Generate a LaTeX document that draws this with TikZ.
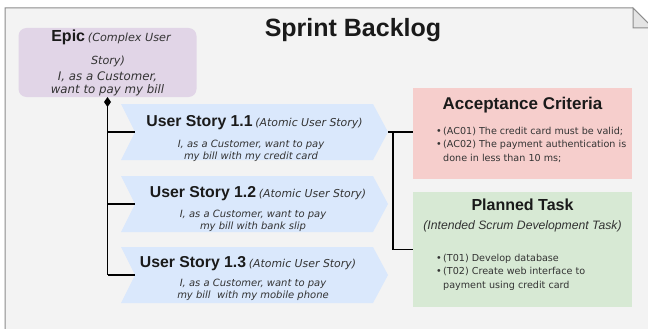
\documentclass[tikz,border=0pt]{standalone}
\usepackage{fontspec}
\setmainfont{Liberation Sans}
\newfontfamily\dv[ItalicFont={DejaVu Sans Oblique}]{DejaVu Sans}
\usetikzlibrary{arrows.meta}
\definecolor{bg}{HTML}{F3F3F3}
\definecolor{framegray}{HTML}{8C8C8C}
\definecolor{foldgray}{HTML}{E4E4E4}
\definecolor{epicfill}{HTML}{E1D5E7}
\definecolor{storyfill}{HTML}{DAE8FC}
\definecolor{acfill}{HTML}{F6CECC}
\definecolor{ptfill}{HTML}{D7E9D4}
\definecolor{ink}{HTML}{1A1A1A}
\definecolor{softink}{HTML}{333333}
\newcommand{\storychevron}[2]{%
  \fill[storyfill] (121,#2) -- (373,#2) -- (388,#2+28) -- (373,#2+56) -- (121,#2+56) -- (135,#2+28) -- cycle;
  \coordinate (#1w) at (135,#2+28);
  \coordinate (#1e) at (388,#2+28);}
\begin{document}
\begin{tikzpicture}[x=1pt,y=-1pt,
  conn/.style={draw=black, line width=1.8pt},
  boxnode/.style={inner sep=0pt, outer sep=0pt},
  head/.style={anchor=base, text=ink, font=\bfseries},
  storyline/.style={anchor=base, text=softink, font=\dv\itshape\fontsize{10}{12}\selectfont},
  bulletline/.style={anchor=base west, text=softink, font=\dv\fontsize{9.6}{11}\selectfont, inner sep=0pt}]
\useasboundingbox (0,0) rectangle (648,329);
\clip (0,0) rectangle (648,329);
\fill[white] (0,0) rectangle (648,329);
\filldraw[fill=bg, draw=framegray, line width=1pt] (5,345) -- (5,8) -- (633,8) -- (655,30) -- (655,345);
\filldraw[fill=foldgray, draw=framegray, line width=1pt] (633,8) -- (633,28) -- (653,28) -- cycle;

% title
\node[head, font=\bfseries\fontsize{25}{30}\selectfont] (title) at (353,37) {Sprint Backlog};

% epic
\node[boxnode, fill=epicfill, rounded corners=8pt, minimum width=178pt, minimum height=69pt] (epic) at (107.5,62.5) {};
\node[anchor=base, text=ink, inner sep=0pt] (epict) at (111,42) {{\bfseries\fontsize{16}{19}\selectfont Epic}\ {\dv\itshape\fontsize{11.2}{13}\selectfont\color{softink}(Complex User}};
\node[anchor=base, text=softink, inner sep=0pt, font=\dv\itshape\fontsize{11.2}{13}\selectfont] (epicst) at (108,64) {Story)};
\node[anchor=base, text=softink, inner sep=0pt, font=\dv\itshape\fontsize{11.8}{13}\selectfont] (epicb1) at (107.5,81) {I, as a Customer,};
\node[anchor=base, text=softink, inner sep=0pt, font=\dv\itshape\fontsize{11.8}{13}\selectfont] (epicb2) at (107.5,93) {want to pay my bill};

% user stories
\storychevron{s1}{104}
\storychevron{s2}{176}
\storychevron{s3}{247}

\node[anchor=base, text=ink, inner sep=0pt] (s1t) at (254.5,126) {{\bfseries\fontsize{15.8}{19}\selectfont User Story 1.1}\ {\dv\itshape\fontsize{10.9}{13}\selectfont\color{softink}(Atomic User Story)}};
\node[storyline] (s1a) at (251,147) {I, as a Customer, want to pay};
\node[storyline] (s1b) at (251,159) {my bill with my credit card};

\node[anchor=base, text=ink, inner sep=0pt] (s2t) at (258,197) {{\bfseries\fontsize{15.8}{19}\selectfont User Story 1.2}\ {\dv\itshape\fontsize{10.9}{13}\selectfont\color{softink}(Atomic User Story)}};
\node[storyline] (s2a) at (253,217) {I, as a Customer, want to pay};
\node[storyline] (s2b) at (253,229) {my bill with bank slip};

\node[anchor=base, text=ink, inner sep=0pt] (s3t) at (248,267) {{\bfseries\fontsize{15.8}{19}\selectfont User Story 1.3}\ {\dv\itshape\fontsize{10.9}{13}\selectfont\color{softink}(Atomic User Story)}};
\node[storyline] (s3a) at (253,286) {I, as a Customer, want to pay};
\node[storyline] (s3b) at (253,298) {my bill\ \ with my mobile phone};

% acceptance criteria
\node[boxnode, fill=acfill, minimum width=219pt, minimum height=91pt] (ac) at (522.5,133.5) {};
\node[head, font=\bfseries\fontsize{17}{20}\selectfont] (act) at (522.5,110) {Acceptance Criteria};
\node[bulletline] (acb1) at (436,134) {•};
\node[bulletline] (ac1) at (443,134) {(AC01) The credit card must be valid;};
\node[bulletline] (acb2) at (436,147.5) {•};
\node[bulletline] (ac2) at (443,147.5) {(AC02) The payment authentication is};
\node[bulletline] (ac3) at (443,161) {done in less than 10 ms;};

% planned task
\node[boxnode, fill=ptfill, minimum width=219pt, minimum height=115pt] (pt) at (522.5,249.5) {};
\node[head, font=\bfseries\fontsize{16}{19}\selectfont] (ptt) at (522.5,210) {Planned Task};
\node[anchor=base, text=softink, inner sep=0pt, font=\itshape\fontsize{12.2}{14}\selectfont] (pts) at (522.5,229) {(Intended Scrum Development Task)};
\node[bulletline] (ptb1) at (436,261) {•};
\node[bulletline] (pt1) at (443,261) {(T01) Develop database};
\node[bulletline] (ptb2) at (436,274.5) {•};
\node[bulletline] (pt2) at (443,274.5) {(T02) Create web interface to};
\node[bulletline] (pt3) at (443,288) {payment using credit card};

% connectors left
\coordinate (trunkend) at (epic.south |- s3w);
\draw[conn, {Diamond[length=10pt,width=7pt]}-] (epic.south) -- (trunkend);
\draw[conn] (epic.south |- s1w) -- (s1w);
\draw[conn] (epic.south |- s2w) -- (s2w);
\draw[conn] (trunkend) -- (s3w);

% connectors right
\coordinate (junction) at (393,132);
\draw[conn] (s1e) -- (s1e -| ac.west);
\draw[conn] (junction) |- (pt.west);
\end{tikzpicture}
\end{document}
